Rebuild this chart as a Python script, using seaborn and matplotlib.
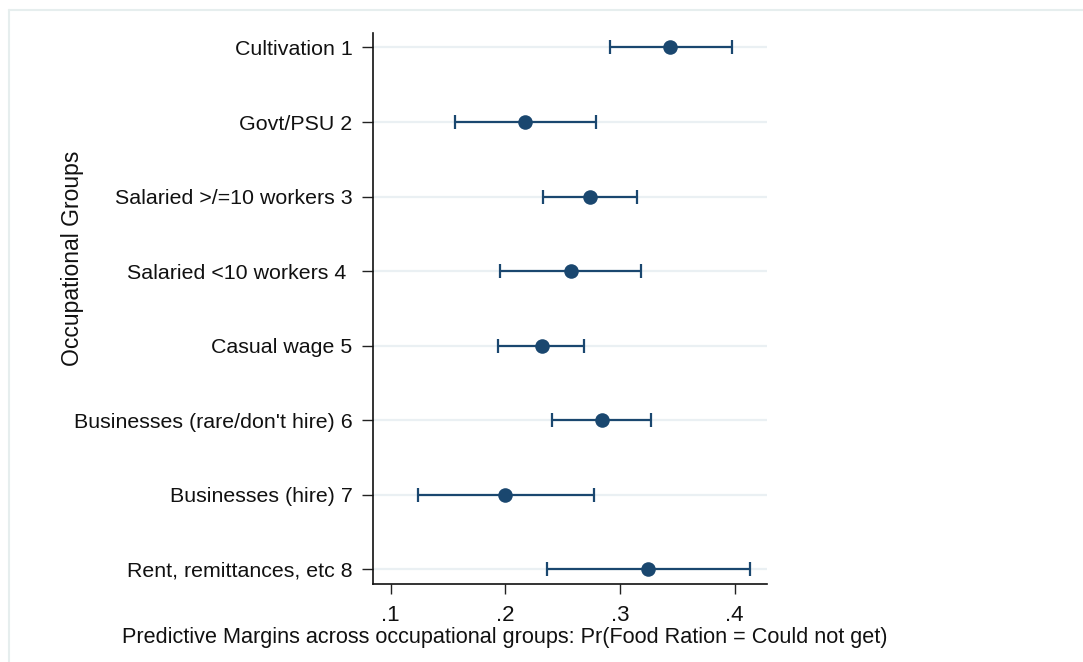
import matplotlib
matplotlib.use("Agg")
import matplotlib.pyplot as plt
import seaborn as sns
import pandas as pd
from matplotlib.lines import Line2D

# ---- data ----
categories = ["Cultivation 1", "Govt/PSU 2", "Salaried >/=10 workers 3",
              "Salaried <10 workers 4 ", "Casual wage 5",
              "Businesses (rare/don't hire) 6", "Businesses (hire) 7",
              "Rent, remittances, etc 8"]
margin = [0.344, 0.217, 0.274, 0.257, 0.232, 0.284, 0.200, 0.324]
ci_low = [0.291, 0.156, 0.233, 0.195, 0.194, 0.241, 0.124, 0.236]
ci_high = [0.398, 0.279, 0.315, 0.318, 0.269, 0.327, 0.277, 0.413]
xticks = [0.1, 0.2, 0.3, 0.4]
xtick_labels = [".1", ".2", ".3", ".4"]

df = pd.DataFrame({"group": categories, "pos": range(len(categories)),
                   "margin": margin, "lo": ci_low, "hi": ci_high})

sns.set_theme(style="white")
plt.rcParams["font.family"] = ["Liberation Sans", "DejaVu Sans"]

navy = "#1a476f"
fig = plt.figure(figsize=(10.83, 6.62), dpi=100)
ax = fig.add_axes([0.3447, 0.1174, 0.708 - 0.3447, 0.9497 - 0.1174])

# gridlines
for p in df["pos"]:
    ax.axhline(p, color="#eaf0f3", lw=1.6, zorder=0)

ax.errorbar(df["margin"], df["pos"],
            xerr=[df["margin"] - df["lo"], df["hi"] - df["margin"]],
            fmt="none", ecolor=navy, elinewidth=1.6, capsize=5, capthick=1.6,
            zorder=2)
sns.scatterplot(data=df, x="margin", y="pos", color=navy, s=110,
                edgecolor=navy, linewidth=0, ax=ax, zorder=3, legend=False)

ax.set_xlim(0.0848, 0.428)
ax.set_ylim(7.2, -0.19)
ax.set_xticks(xticks)
ax.set_xticklabels(xtick_labels, fontsize=16, color="#111111")
ax.set_yticks(df["pos"])
ax.set_yticklabels(categories, fontsize=15.4, color="#111111")
ax.tick_params(axis="y", length=8, width=1, color="#222222", pad=7, left=True)
ax.tick_params(axis="x", length=7, width=1, color="#222222", pad=8, bottom=True)
ax.set_xlabel("")
ax.set_ylabel("")

for s in ["top", "right"]:
    ax.spines[s].set_visible(False)
for s in ["left", "bottom"]:
    ax.spines[s].set_color("#111111")
    ax.spines[s].set_linewidth(1.2)

fig.text(0.466, 0.037,
         "Predictive Margins across occupational groups: Pr(Food Ration = Could not get)",
         ha="center", va="center", fontsize=15.6, color="#111111")
fig.text(0.0665, 0.61, "Occupational Groups", rotation=90, ha="center",
         va="center", fontsize=16.5, color="#111111")

# outer graph region border (light)
fig.add_artist(Line2D([9 / 1083, 1.0], [1 - 10 / 662, 1 - 10 / 662],
                      transform=fig.transFigure, color="#e6eeee", lw=1.5))
fig.add_artist(Line2D([9 / 1083, 9 / 1083], [0.0, 1 - 10 / 662],
                      transform=fig.transFigure, color="#e6eeee", lw=1.5))

fig.savefig("out.png", dpi=100)
